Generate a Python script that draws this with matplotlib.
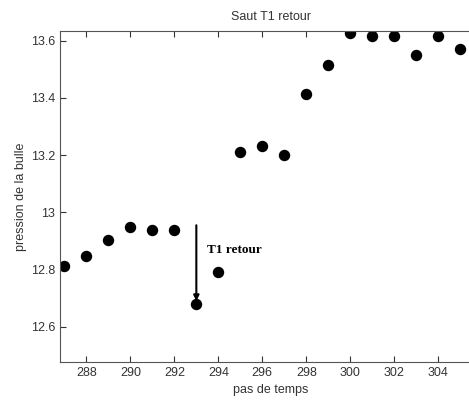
import numpy as np
import matplotlib.pyplot as plt

plt.rcParams['font.family'] = ['Liberation Sans', 'DejaVu Sans']

# pas de temps / pression
steps = [287, 288, 289, 290, 291, 292, 293, 294, 295, 296,
         297, 298, 299, 300, 301, 302, 303, 304, 305]
pressure = [12.813, 12.847, 12.903, 12.950, 12.938, 12.938, 12.678, 12.791,
            13.211, 13.232, 13.200, 13.413, 13.515, 13.627, 13.617, 13.617,
            13.549, 13.617, 13.572]
xticks = np.arange(288, 306, 2)
yticks = [12.6, 12.8, 13.0, 13.2, 13.4, 13.6]
ytick_labels = ['12.6', '12.8', '13', '13.2', '13.4', '13.6']

fig = plt.figure(figsize=(4.69, 4.0), dpi=100)
ax = fig.add_axes([0.128, 0.095, 0.90, 0.8275])

ax.plot(steps, pressure, 'o', color='k', markersize=7.2)

# fleche du saut
ax.annotate('', xy=(293, 12.69), xytext=(293, 12.955),
            arrowprops=dict(arrowstyle='-|>', color='k', lw=1.5,
                            mutation_scale=8, shrinkA=0, shrinkB=0))
ax.text(293.5, 12.868, 'T1 retour', fontsize=9.5, fontweight='bold',
        family=['Liberation Serif', 'DejaVu Serif'], va='center')

ax.set_xlim(286.8, 306)
ax.set_ylim(12.477, 13.634)
ax.set_xticks(xticks)
ax.set_yticks(yticks)
ax.set_yticklabels(ytick_labels)
ax.tick_params(direction='in', top=True, right=True, labelsize=9,
               length=4, color='#333333', labelcolor='#333333')
for s in ax.spines.values():
    s.set_color('#555555')

ax.set_title('Saut T1 retour', fontsize=9, color='#333333', pad=8)
ax.set_xlabel('pas de temps', fontsize=9, color='#333333', labelpad=3.5)
ax.set_ylabel('pression de la bulle', fontsize=9, color='#333333', labelpad=2.5)

fig.savefig('out.png', dpi=100)
